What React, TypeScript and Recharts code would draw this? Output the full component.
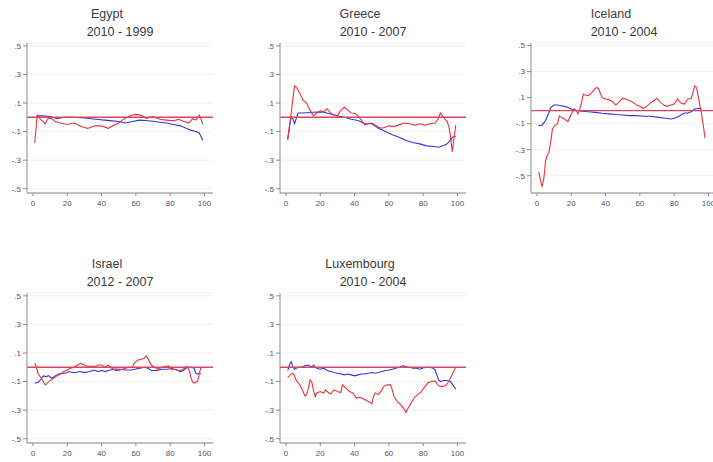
import React from "react";
import { LineChart, Line, XAxis, YAxis, CartesianGrid, ReferenceLine } from "recharts";

type Pt = [number, number];

// Percentile on the x axis, difference on the y axis.
const xTicks = [0, 20, 40, 60, 80, 100];
const yTicks = [-0.5, -0.3, -0.1, 0.1, 0.3, 0.5];

const egyptRed: Pt[] = [[1,-0.18],[2.5,0.016],[4,-0.01],[6,-0.03],[7,-0.045],[9,-0.005],[11,-0.01],[13,-0.03],[16,-0.04],[20,-0.05],[24,-0.04],[28,-0.065],[32,-0.078],[36,-0.06],[40,-0.06],[44,-0.077],[48,-0.05],[50,-0.04],[52,-0.02],[55,0],[58,0.016],[60,0.02],[63,0.015],[66,-0.007],[70,0.005],[74,-0.014],[78,-0.02],[82,-0.025],[85,-0.014],[88,-0.03],[91,-0.04],[93,-0.01],[95,-0.02],[97,0.016],[98,-0.01],[99,-0.05]];
const egyptBlue: Pt[] = [[2,0],[3,0.01],[6,0.01],[10,0.005],[14,-0.01],[18,0],[22,0],[26,-0.002],[30,-0.005],[34,-0.01],[38,-0.015],[42,-0.02],[46,-0.025],[50,-0.03],[54,-0.04],[58,-0.03],[62,-0.02],[66,-0.022],[70,-0.028],[74,-0.035],[78,-0.04],[82,-0.05],[86,-0.06],[89,-0.075],[92,-0.09],[95,-0.1],[97,-0.11],[99,-0.16]];

const greeceRed: Pt[] = [[1,-0.16],[3,0.03],[5,0.22],[6,0.21],[8,0.17],[10,0.12],[12,0.1],[14,0.05],[16,0.01],[18,0.03],[20,0.045],[22,0.04],[24,0.06],[26,0.03],[28,0.016],[30,0.01],[32,0.05],[34,0.07],[36,0.05],[38,0.03],[40,0.028],[42,0.01],[44,-0.02],[46,-0.053],[48,-0.045],[50,-0.04],[52,-0.053],[54,-0.07],[56,-0.077],[58,-0.07],[60,-0.06],[63,-0.065],[66,-0.053],[69,-0.04],[72,-0.045],[75,-0.055],[78,-0.045],[81,-0.055],[84,-0.045],[87,-0.04],[89,-0.007],[90,0.03],[92,0],[94,-0.03],[95,-0.065],[96,-0.135],[97,-0.24],[98,-0.15],[99,-0.055]];
const greeceBlue: Pt[] = [[1,-0.15],[3,0.005],[4,-0.01],[5,-0.045],[7,0.03],[10,0.03],[14,0.033],[18,0.037],[22,0.035],[26,0.023],[30,0.01],[34,0],[38,-0.014],[42,-0.023],[46,-0.045],[50,-0.045],[54,-0.077],[58,-0.1],[62,-0.123],[66,-0.14],[70,-0.163],[74,-0.177],[78,-0.186],[82,-0.2],[86,-0.205],[89,-0.21],[92,-0.198],[94,-0.186],[96,-0.158],[97,-0.14],[99,-0.135]];

const icelandRed: Pt[] = [[1,-0.47],[2,-0.53],[3,-0.585],[4,-0.52],[5,-0.39],[6,-0.34],[7,-0.32],[8,-0.24],[9,-0.14],[10,-0.12],[12,-0.1],[13,-0.04],[14,-0.05],[16,-0.064],[18,-0.084],[20,-0.025],[22,0.013],[24,-0.025],[25,0.013],[26,0.064],[27,0.127],[28,0.12],[30,0.115],[32,0.14],[34,0.17],[35,0.178],[36,0.165],[38,0.1],[40,0.09],[42,0.084],[44,0.07],[46,0.043],[48,0.07],[50,0.094],[52,0.09],[54,0.076],[56,0.064],[58,0.043],[60,0.033],[62,0.018],[64,0.033],[66,0.058],[68,0.076],[70,0.094],[72,0.064],[74,0.043],[76,0.033],[78,0.043],[80,0.05],[82,0.09],[84,0.058],[86,0.05],[88,0.09],[90,0.094],[92,0.19],[93,0.178],[94,0.115],[95,0.038],[96,-0.025],[97,-0.11],[98,-0.21]];
const icelandBlue: Pt[] = [[1,-0.115],[3,-0.11],[5,-0.076],[7,-0.013],[8,0.025],[10,0.043],[12,0.043],[14,0.038],[16,0.033],[18,0.025],[20,0.013],[22,0.005],[26,-0.005],[30,-0.008],[34,-0.013],[38,-0.02],[42,-0.025],[46,-0.03],[50,-0.033],[54,-0.038],[58,-0.038],[62,-0.043],[66,-0.043],[70,-0.05],[74,-0.056],[78,-0.064],[80,-0.058],[82,-0.048],[84,-0.033],[86,-0.018],[88,-0.018],[90,-0.008],[92,0.013],[94,0.018],[96,0.013]];

const israelRed: Pt[] = [[1,0.028],[2,0],[3,-0.047],[5,-0.077],[7,-0.123],[8,-0.116],[10,-0.093],[12,-0.077],[14,-0.06],[16,-0.047],[18,-0.03],[20,-0.019],[22,-0.007],[24,0],[26,0.016],[28,0.028],[30,0.016],[32,0.005],[34,0.009],[36,0.005],[38,0.016],[40,0.016],[42,0],[44,0.014],[46,-0.007],[48,-0.023],[50,-0.023],[52,-0.014],[54,-0.007],[56,0],[58,0],[59,0.028],[61,0.05],[63,0.056],[65,0.063],[66,0.08],[67,0.063],[69,0.016],[71,0],[73,-0.014],[75,0],[77,0.005],[79,0.01],[81,-0.019],[83,-0.014],[85,-0.023],[87,-0.019],[89,0],[90,0.005],[91,-0.019],[92,-0.065],[93,-0.1],[94,-0.11],[96,-0.1],[97,-0.042],[98,0]];
const israelBlue: Pt[] = [[1,-0.11],[3,-0.107],[5,-0.077],[6,-0.06],[8,-0.065],[9,-0.058],[11,-0.077],[13,-0.06],[15,-0.047],[17,-0.042],[19,-0.042],[21,-0.03],[23,-0.037],[25,-0.037],[27,-0.03],[30,-0.037],[33,-0.03],[36,-0.019],[38,-0.03],[40,-0.023],[42,-0.03],[45,-0.019],[48,-0.012],[51,-0.014],[54,-0.019],[57,-0.019],[60,-0.012],[63,-0.005],[65,0],[67,-0.007],[69,-0.023],[72,-0.023],[75,-0.014],[78,-0.014],[81,-0.009],[84,-0.019],[86,-0.03],[88,-0.019],[90,0],[92,0],[94,-0.007],[95,-0.042],[96,-0.047],[98,-0.042]];

const luxRed: Pt[] = [[1,-0.07],[2,-0.06],[3,-0.047],[4,-0.042],[5,-0.06],[6,-0.093],[8,-0.123],[10,-0.17],[11,-0.2],[12,-0.19],[13,-0.153],[14,-0.088],[15,-0.1],[16,-0.158],[17,-0.205],[18,-0.18],[20,-0.17],[22,-0.18],[23,-0.158],[25,-0.18],[26,-0.186],[28,-0.158],[30,-0.17],[32,-0.177],[33,-0.123],[35,-0.146],[37,-0.17],[39,-0.18],[41,-0.216],[43,-0.21],[45,-0.22],[47,-0.232],[49,-0.246],[50,-0.256],[51,-0.205],[52,-0.18],[54,-0.19],[56,-0.158],[57,-0.135],[59,-0.123],[61,-0.123],[62,-0.158],[63,-0.205],[65,-0.24],[67,-0.263],[69,-0.293],[70,-0.316],[71,-0.29],[73,-0.25],[75,-0.21],[77,-0.19],[79,-0.17],[81,-0.135],[83,-0.107],[85,-0.1],[87,-0.095],[89,-0.13],[91,-0.135],[93,-0.13],[95,-0.1],[97,-0.047],[99,0]];
const luxBlue: Pt[] = [[1,-0.023],[2,0.016],[3,0.04],[4,0.005],[5,-0.014],[7,0],[9,0],[11,0.01],[13,0.016],[15,0],[16,0.016],[18,-0.007],[20,-0.014],[22,-0.007],[24,-0.023],[26,-0.03],[28,-0.037],[30,-0.042],[32,-0.047],[34,-0.053],[36,-0.047],[38,-0.053],[40,-0.06],[42,-0.053],[44,-0.047],[46,-0.047],[48,-0.042],[50,-0.037],[52,-0.042],[54,-0.037],[56,-0.03],[58,-0.023],[60,-0.019],[62,-0.014],[64,-0.007],[66,0],[68,0.01],[70,0.005],[72,0],[74,-0.007],[76,-0.007],[78,-0.014],[80,-0.005],[82,0],[84,-0.002],[86,-0.007],[87,-0.019],[88,-0.053],[89,-0.088],[90,-0.1],[92,-0.093],[94,-0.093],[96,-0.1],[98,-0.135],[99,-0.153]];

const RED = "#e8323c";
const BLUE = "#3535d8";
const ZERO = "#dc4560";
const FONT = "'Liberation Sans', Arial, sans-serif";

const PANEL_W = 252;
const PANEL_H = 250;

const fmt = (v: number) => v.toFixed(1).replace("0.", ".");
const toRows = (pts: Pt[]) => pts.map(([x, y]) => ({ x, y }));

type PanelProps = {
  left: number;
  top: number;
  title: string;
  subtitle: string;
  red: Pt[];
  blue: Pt[];
  yDomain: [number, number];
};

function Panel({ left, top, title, subtitle, red, blue, yDomain }: PanelProps) {
  const tick = { fill: "#555", fontSize: 8, fontFamily: FONT };
  return (
    <div style={{ position: "absolute", left, top, width: PANEL_W, height: PANEL_H }}>
      <div style={{ position: "absolute", left: 0, top: 7, width: 214, textAlign: "center", fontFamily: FONT, fontSize: 12.5, fontWeight: 400, lineHeight: "15px", color: "#3a3a3a" }}>
        {title}
      </div>
      <div style={{ position: "absolute", left: 27, top: 25, width: 186, textAlign: "center", fontFamily: FONT, fontSize: 12.5, fontWeight: 400, lineHeight: "15px", color: "#3a3a3a" }}>
        {subtitle}
      </div>
      <LineChart width={PANEL_W} height={PANEL_H} margin={{ top: 43, right: 39, bottom: 0, left: 0 }}>
        <CartesianGrid horizontal vertical={false} stroke="#f3f1f1" />
        <XAxis
          type="number"
          dataKey="x"
          domain={[-3.5, 105]}
          ticks={xTicks}
          allowDataOverflow
          height={57}
          tickSize={3}
          tickMargin={4}
          stroke="#8a8a8a"
          tick={tick}
        />
        <YAxis
          type="number"
          dataKey="y"
          domain={yDomain}
          ticks={yTicks}
          allowDataOverflow
          width={27}
          tickSize={4}
          tickMargin={2}
          tickFormatter={fmt}
          stroke="#8a8a8a"
          tick={tick}
        />
        <Line data={toRows(blue)} dataKey="y" stroke={BLUE} strokeWidth={1.1} dot={false} isAnimationActive={false} />
        <Line data={toRows(red)} dataKey="y" stroke={RED} strokeWidth={1.1} dot={false} isAnimationActive={false} />
        <ReferenceLine y={0} stroke={ZERO} strokeWidth={1.4} />
      </LineChart>
    </div>
  );
}

export default function App() {
  return (
    <div style={{ position: "absolute", left: 0, top: 0, width: 713, height: 462, overflow: "hidden", background: "#fff" }}>
      <Panel left={0} top={0} title="Egypt" subtitle="2010 - 1999" red={egyptRed} blue={egyptBlue} yDomain={[-0.53, 0.52]} />
      <Panel left={253} top={0} title="Greece" subtitle="2010 - 2007" red={greeceRed} blue={greeceBlue} yDomain={[-0.53, 0.52]} />
      <Panel left={504} top={0} title="Iceland" subtitle="2010 - 2004" red={icelandRed} blue={icelandBlue} yDomain={[-0.633, 0.52]} />
      <Panel left={0} top={250} title="Israel" subtitle="2012 - 2007" red={israelRed} blue={israelBlue} yDomain={[-0.53, 0.52]} />
      <Panel left={253} top={250} title="Luxembourg" subtitle="2010 - 2004" red={luxRed} blue={luxBlue} yDomain={[-0.53, 0.52]} />
    </div>
  );
}
